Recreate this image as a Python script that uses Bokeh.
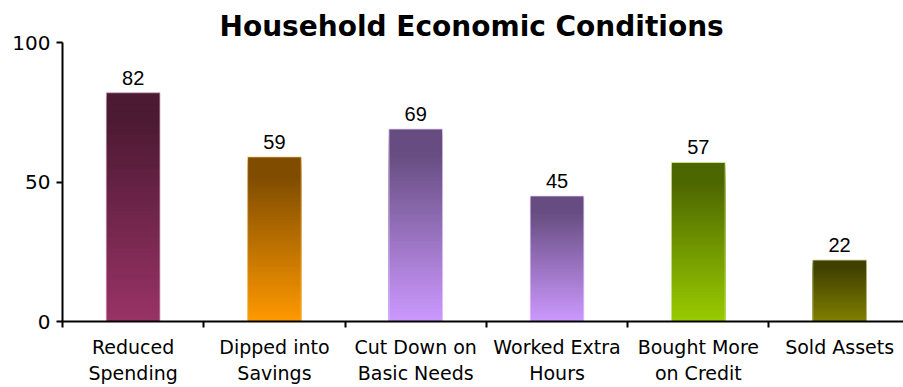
from bokeh.plotting import figure
from bokeh.models import Range1d, FixedTicker, ColumnDataSource, LabelSet
from bokeh.core.properties import value
from bokeh.embed import file_html
from bokeh.resources import INLINE

# ---- data ----
categories = ["Reduced\nSpending", "Dipped into\nSavings", "Cut Down on\nBasic Needs",
              "Worked Extra\nHours", "Bought More\non Credit", "Sold Assets"]
values = [82, 59, 69, 45, 57, 22]
base_colors = ["#993366", "#ff9900", "#cc99ff", "#cc99ff", "#99cc00", "#808000"]
y_ticks = [0, 50, 100]
title_text = "Household Economic Conditions"

FONT = "DejaVu Sans"
NUM_FONT = "Liberation Sans"


def hex_to_rgb(h):
    h = h.lstrip("#")
    return tuple(int(h[i:i + 2], 16) for i in (0, 2, 4))


def rgb_to_hex(c):
    return "#%02x%02x%02x" % tuple(max(0, min(255, int(round(v)))) for v in c)


def mix(c1, c2, t):
    return tuple(a + (b - a) * t for a, b in zip(c1, c2))


p = figure(width=903, height=387, output_backend="svg", toolbar_location=None,
           x_range=Range1d(0, 5.952), y_range=Range1d(0, 100),
           min_border_left=62, min_border_right=0, min_border_top=42,
           min_border_bottom=66)
p.outline_line_color = None
p.xgrid.visible = False
p.ygrid.visible = False
p.background_fill_color = "white"
p.border_fill_color = "white"

# title
p.title.text = title_text
p.title.text_font = FONT
p.title.text_font_size = "28px"
p.title.text_font_style = "bold"
p.title.text_color = "black"
p.title.align = "left"
p.title.offset = 157
p.title.standoff = 0
p.title.vertical_align = "bottom"

centers = [i + 0.5 for i in range(len(categories))]
bar_w = 0.38
n_steps = 60

# gradient bars: overlapping slices, tallest (darkest top) drawn first
left, right, bottom, top, colors = [], [], [], [], []
for cx, v, bc in zip(centers, values, base_colors):
    base = hex_to_rgb(bc)
    dark = tuple(c * 0.5 for c in base)
    for k in range(n_steps - 1, -1, -1):
        y1 = v * (k + 1) / n_steps
        t = min(1.0, (k + 0.5) / n_steps / 0.88)
        left.append(cx - bar_w / 2)
        right.append(cx + bar_w / 2)
        bottom.append(0)
        top.append(y1)
        colors.append(rgb_to_hex(mix(base, dark, t)))

src = ColumnDataSource(dict(left=left, right=right, bottom=bottom, top=top, color=colors))
p.quad(left="left", right="right", bottom="bottom", top="top", source=src,
       fill_color="color", line_color=None)

outline_cols = [rgb_to_hex(mix(hex_to_rgb(c), (255, 255, 255), 0.6)) for c in base_colors]
p.quad(left=[c - bar_w / 2 for c in centers], right=[c + bar_w / 2 for c in centers],
       bottom=[0] * len(values), top=values, fill_color=None,
       line_color=outline_cols, line_width=1, line_alpha=0.8)

# value labels, floated a little above each bar
lab_src = ColumnDataSource(dict(x=centers, y=values, text=[str(v) for v in values]))
p.add_layout(LabelSet(x="x", y="y", text="text", source=lab_src, y_offset=8,
                      text_align="center", text_baseline="bottom",
                      text_font=value(NUM_FONT), text_font_size=value("20px"),
                      text_color=value("black")))

# x axis
xa = p.xaxis[0]
xa.ticker = FixedTicker(ticks=centers, minor_ticks=list(range(len(categories) + 1)))
xa.major_label_overrides = {c: lab for c, lab in zip(centers, categories)}
xa.major_tick_out = 0
xa.major_tick_in = 0
xa.minor_tick_out = 6
xa.minor_tick_in = 0
xa.minor_tick_line_color = "black"
xa.minor_tick_line_width = 2
xa.axis_line_width = 2
xa.axis_line_color = "black"
xa.major_label_text_font = FONT
xa.major_label_text_font_size = "19px"
xa.major_label_text_color = "black"
xa.major_label_standoff = 8

# y axis
ya = p.yaxis[0]
ya.ticker = FixedTicker(ticks=y_ticks)
ya.major_tick_out = 6
ya.major_tick_in = 0
ya.minor_tick_line_color = None
ya.major_tick_line_width = 2
ya.axis_line_width = 2
ya.axis_line_color = "black"
ya.major_label_text_font = FONT
ya.major_label_text_font_size = "20px"
ya.major_label_text_color = "black"
ya.major_label_standoff = 6

open("out.html", "w").write(file_html(p, INLINE))
